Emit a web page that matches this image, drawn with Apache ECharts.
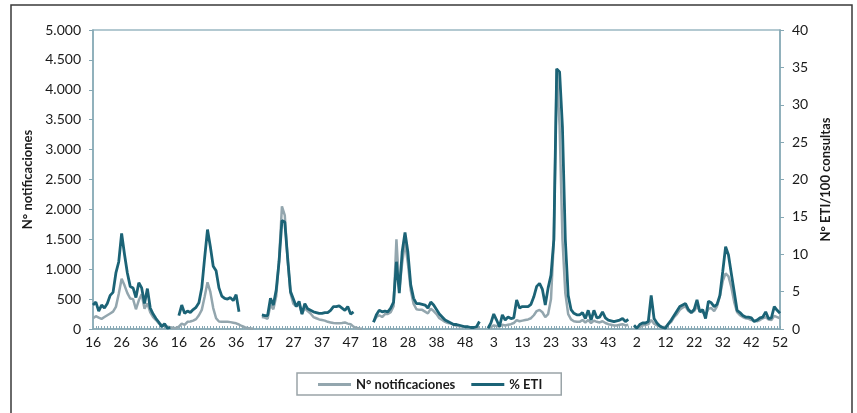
<!DOCTYPE html>
<html>
<head>
<meta charset="utf-8">
<script src="https://cdn.jsdelivr.net/npm/echarts@6/dist/echarts.min.js"></script>
<style>
  html, body { margin: 0; padding: 0; background: #fff; }
  #chart { width: 857px; height: 413px; }
</style>
</head>
<body>
<div id="chart"></div>
<script>
// semanas por temporada: [semana inicial, cantidad de semanas]
var seasons = [[16, 30], [16, 29], [16, 37], [14, 39], [50, 55], [2, 51]];

// N° notificaciones por temporada
var notif1 = [180,215,190,170,200,230,260,290,370,590,840,730,600,510,500,330,480,580,340,430,280,200,150,95,70,50,40,30,20,15];
var notif2 = [40,90,70,120,125,140,165,230,320,540,780,620,350,180,125,120,120,120,115,105,95,75,50,30,15,10,5,null,null];
var notif3 = [200,190,170,400,330,550,1150,2050,1900,1150,600,420,380,420,250,350,300,260,200,180,160,150,140,120,110,100,95,95,100,110,90,80,40,20,10,5,null];
var notif4 = [null,null,120,200,230,200,250,250,280,380,1500,650,1100,1450,1100,650,420,330,320,320,290,260,340,300,250,180,150,120,100,90,70,55,45,40,35,30,25,20,20];
var notif5 = [30,null,null,20,30,60,50,40,70,60,70,80,100,150,130,140,150,160,180,230,300,320,280,200,250,500,1500,4350,3400,1500,600,250,160,130,120,120,150,110,150,100,140,120,110,130,100,80,70,60,60,70,80,60,70,null,40];
var notif6 = [20,30,60,70,80,150,90,60,40,30,40,80,120,200,250,320,360,380,300,270,300,380,300,280,230,340,350,300,380,550,800,930,880,700,450,280,230,200,180,170,150,140,130,150,180,200,160,150,220,200,180];

// % ETI por temporada
var eti1 = [3.2,3.6,2.4,3.2,2.8,3.4,4.5,4.9,7.5,9.0,12.8,10.0,7.5,5.7,5.5,4.2,6.2,5.5,3.4,5.4,2.8,2.0,1.4,0.9,0.3,0.7,0.1,0.2,null,null];
var eti2 = [1.8,3.2,2.1,2.4,2.2,2.6,2.9,3.5,5.5,9.5,13.3,11.0,8.4,7.8,5.5,4.4,4.1,4.0,4.2,3.8,4.6,2.3,null,null,null,null,null,null,null];
var eti3 = [1.9,1.8,1.8,4.1,3.2,5.2,9.0,14.5,14.3,9.5,5.0,4.0,3.0,3.7,2.0,3.4,2.7,2.5,2.3,2.2,2.1,2.1,2.2,2.2,2.5,3.0,3.0,3.1,2.8,2.5,3.0,2.0,2.3,null,null,null,null];
var eti4 = [null,null,0.9,1.9,2.5,2.3,2.4,2.3,2.8,3.6,9.0,4.8,10.3,12.9,10.3,5.9,4.1,3.4,3.4,3.3,3.2,2.8,3.6,3.2,2.6,2.0,1.6,1.2,1.0,0.8,0.6,0.6,0.5,0.4,0.3,0.3,0.2,0.2,0.3];
var eti5 = [1.0,null,null,0.1,0.8,2.0,1.2,0.3,1.9,1.2,1.6,1.4,1.5,3.9,2.8,3.0,3.0,3.0,3.3,4.3,5.7,6.1,5.3,3.2,5.5,7.2,12,34.8,34.4,27,12,4.5,2.6,2.1,1.9,1.9,2.2,1.4,2.5,1.2,2.5,1.5,1.6,2.3,1.5,1.2,1.1,1.0,1.1,1.2,1.4,1.0,1.3,null,0.5];
var eti6 = [0.1,0.6,0.8,0.8,1.0,4.5,1.4,0.8,0.4,0.2,0.1,0.7,1.2,1.8,2.4,3.0,3.2,3.4,2.6,2.2,2.6,3.9,2.3,2.6,1.4,3.7,3.5,3.0,3.3,4.5,7.7,11.0,9.9,7.4,5.0,2.5,2.2,1.8,1.6,1.6,1.5,1.0,1.2,1.5,1.6,2.3,1.4,1.5,3.0,2.5,2.1];

// ejes
var leftTicks = { min: 0, max: 5000, interval: 500 };
var rightTicks = { min: 0, max: 40, interval: 5 };

// armar categorias (semanas)
var weeks = [];
seasons.forEach(function (s) {
  for (var k = 0; k < s[1]; k++) {
    var w = s[0] + k;
    while (w > 52) w -= 52;
    weeks.push(String(w));
  }
});
var notif = [].concat(notif1, notif2, notif3, notif4, notif5, notif6);
var eti = [].concat(eti1, eti2, eti3, eti4, eti5, eti6);

var FONT = 'Lato';
var axisColor = '#86a8b4';

var myChart = echarts.init(document.getElementById('chart'));
var option = {
  animation: false,
  textStyle: { fontFamily: FONT },
  graphic: [{
    type: 'rect',
    shape: { x: 11, y: 5, width: 841, height: 430 },
    style: { fill: 'none', stroke: '#3a3a3a', lineWidth: 1.5 },
    silent: true
  }],
  grid: {
    left: 93, right: 77, top: 30, bottom: 84,
    show: true, borderColor: '#9bb8c2', borderWidth: 1.5, backgroundColor: 'transparent'
  },
  legend: {
    left: 297, top: 373,
    padding: [5, 19, 4, 21],
    itemGap: 16, itemWidth: 33, itemHeight: 3,
    icon: 'rect',
    borderColor: '#9aa4a8', borderWidth: 1.5,
    textStyle: { fontFamily: FONT, fontWeight: 'bold', fontSize: 13, color: '#1a1a1a' },
    data: ['N° notificaciones', '% ETI']
  },
  xAxis: {
    type: 'category',
    data: weeks,
    boundaryGap: false,
    axisLine: { lineStyle: { color: axisColor, width: 1.5 } },
    axisTick: { show: true, interval: 0, inside: true, length: 3, lineStyle: { color: axisColor } },
    axisLabel: { interval: 9, margin: 6, fontSize: 14, color: '#1a1a1a', fontFamily: FONT },
    splitLine: { show: false }
  },
  yAxis: [{
    type: 'value',
    min: leftTicks.min, max: leftTicks.max, interval: leftTicks.interval,
    name: 'N° notificaciones',
    nameLocation: 'middle', nameRotate: 90, nameGap: 47,
    nameTextStyle: { fontFamily: FONT, fontWeight: 'bold', fontSize: 13, color: '#1a1a1a' },
    axisLine: { show: true, lineStyle: { color: axisColor, width: 1.5 } },
    axisTick: { show: true, length: 4, lineStyle: { color: axisColor } },
    axisLabel: {
      margin: 12, fontSize: 14, color: '#1a1a1a', fontFamily: FONT,
      formatter: function (v) { return String(v).replace(/\B(?=(\d{3})+(?!\d))/g, '.'); }
    },
    splitLine: { show: false }
  }, {
    type: 'value',
    position: 'right',
    min: rightTicks.min, max: rightTicks.max, interval: rightTicks.interval,
    name: 'N° ETI/100 consultas',
    nameLocation: 'middle', nameRotate: 90, nameGap: 37,
    nameTextStyle: { fontFamily: FONT, fontWeight: 'bold', fontSize: 13, color: '#1a1a1a' },
    axisLine: { show: true, lineStyle: { color: axisColor, width: 1.5 } },
    axisTick: { show: true, length: 4, lineStyle: { color: axisColor } },
    axisLabel: { margin: 12, fontSize: 14, color: '#1a1a1a', fontFamily: FONT },
    splitLine: { show: false }
  }],
  series: [{
    name: 'N° notificaciones',
    type: 'line',
    yAxisIndex: 0,
    data: notif,
    symbol: 'none',
    connectNulls: false,
    lineStyle: { color: '#93a6ae', width: 2.5 },
    itemStyle: { color: '#93a6ae' }
  }, {
    name: '% ETI',
    type: 'line',
    yAxisIndex: 1,
    data: eti,
    symbol: 'none',
    connectNulls: false,
    lineStyle: { color: '#1b6376', width: 2.8 },
    itemStyle: { color: '#1b6376' }
  }]
};
myChart.setOption(option);
</script>
</body>
</html>
